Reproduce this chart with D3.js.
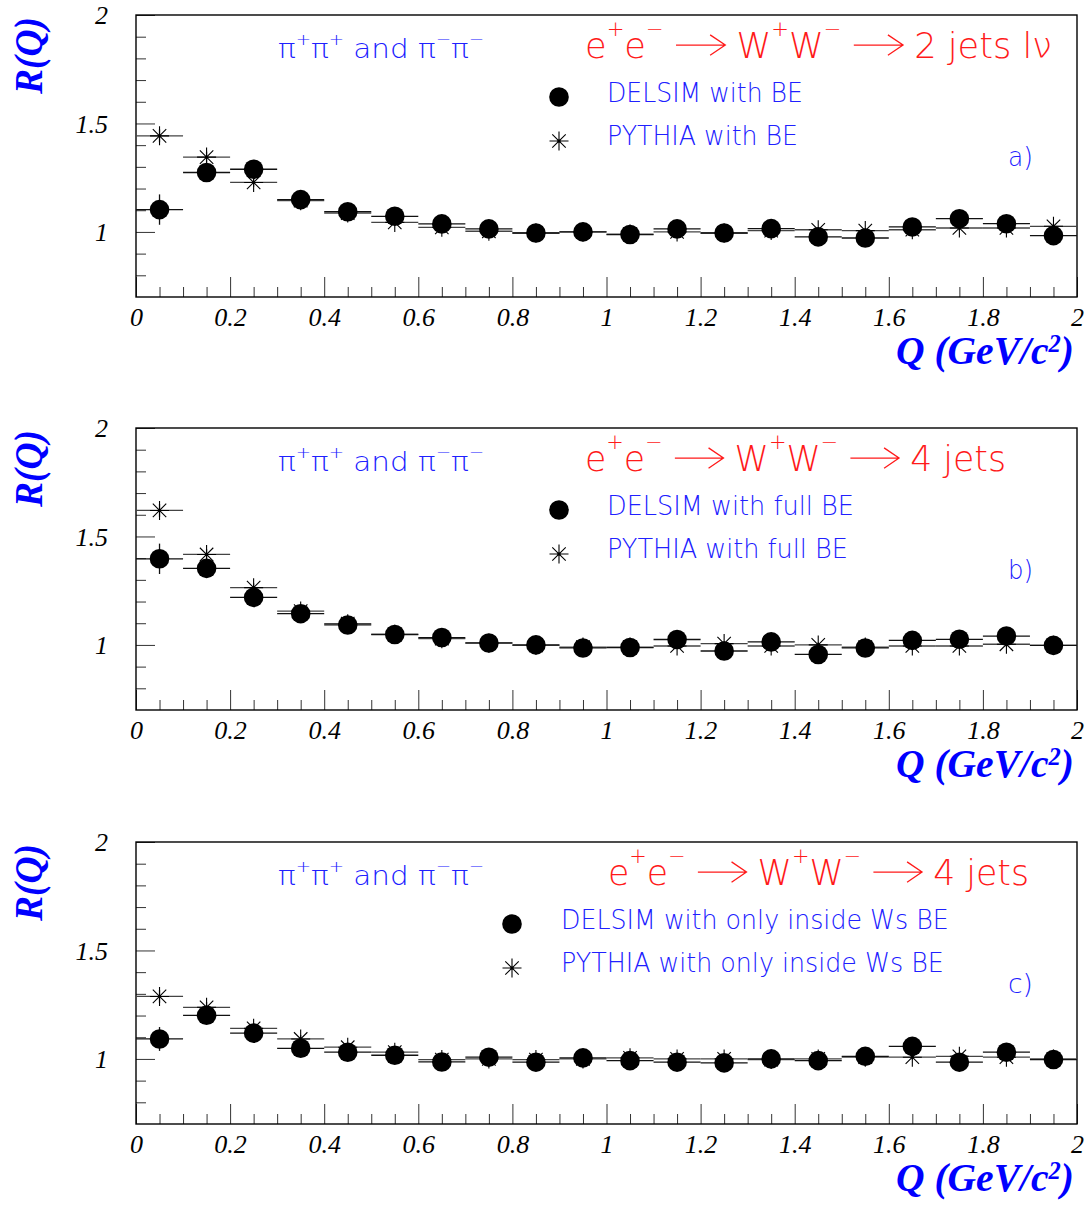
<!DOCTYPE html>
<html><head><meta charset="utf-8">
<script src="https://cdn.jsdelivr.net/npm/d3@7"></script>
<style>html,body{margin:0;padding:0;background:#fff;} svg{display:block}</style>
</head><body>
<svg id="chart" width="1088" height="1207"></svg>
<script>
// ---------------- data ----------------
const binCenters = [0.05,0.15,0.25,0.35,0.45,0.55,0.65,0.75,0.85,0.95,1.05,1.15,1.25,1.35,1.45,1.55,1.65,1.75,1.85,1.95];
const binHalfWidth = 0.05;
const xTickValues = [0,0.2,0.4,0.6,0.8,1,1.2,1.4,1.6,1.8,2];
const xTickLabels = ["0","0.2","0.4","0.6","0.8","1","1.2","1.4","1.6","1.8","2"];
const yTickValues = [1,1.5,2];
const yTickLabels = ["1","1.5","2"];

const delsimA = [1.103,1.274,1.289,1.149,1.093,1.072,1.037,1.014,0.995,1.000,0.988,1.014,0.995,1.015,0.977,0.972,1.023,1.061,1.038,0.983];
const pythiaA = [1.443,1.345,1.228,1.144,1.087,1.044,1.021,1.003,0.995,1.000,0.990,1.000,0.995,1.006,1.010,1.006,1.010,1.018,1.018,1.026];
const delsimB = [1.397,1.353,1.219,1.144,1.092,1.048,1.034,1.009,1.000,0.986,0.988,1.025,0.972,1.014,0.956,0.986,1.021,1.026,1.041,0.998];
const pythiaB = [1.620,1.417,1.264,1.156,1.098,1.049,1.029,1.008,0.998,0.990,0.990,0.995,1.006,0.995,1.000,0.990,0.995,0.995,1.003,0.998];
const delsimC = [1.092,1.201,1.119,1.049,1.031,1.017,0.986,1.008,0.985,1.005,0.992,0.985,0.982,1.000,0.992,1.012,1.058,0.985,1.031,0.997];
const pythiaC = [1.288,1.238,1.141,1.092,1.054,1.031,0.997,1.000,0.997,1.000,1.005,1.000,1.000,0.997,1.000,1.008,1.008,1.012,1.008,1.000];

const delsimErrA = [0.070,0.040,0.035,0.030,0.025,0.022,0.020,0.020,0.020,0.020,0.020,0.020,0.020,0.020,0.020,0.020,0.020,0.020,0.020,0.020];
const delsimErrB = [0.070,0.040,0.035,0.030,0.025,0.022,0.020,0.020,0.020,0.020,0.020,0.020,0.020,0.020,0.020,0.020,0.020,0.020,0.020,0.020];
const delsimErrC = [0.055,0.040,0.035,0.030,0.025,0.022,0.020,0.020,0.020,0.020,0.020,0.020,0.020,0.020,0.020,0.020,0.020,0.020,0.020,0.020];
const pythiaErrA = [0.030,0.025,0.020,0.018,0.015,0.015,0.012,0.012,0.012,0.012,0.012,0.012,0.012,0.012,0.012,0.012,0.012,0.012,0.012,0.012];
const pythiaErrB = [0.030,0.025,0.020,0.018,0.015,0.015,0.012,0.012,0.012,0.012,0.012,0.012,0.012,0.012,0.012,0.012,0.012,0.012,0.012,0.012];
const pythiaErrC = [0.030,0.025,0.020,0.018,0.015,0.015,0.012,0.012,0.012,0.012,0.012,0.012,0.012,0.012,0.012,0.012,0.012,0.012,0.012,0.012];

const panelLetters = ["a)","b)","c)"];
const finalStates = ["2 jets l\u03BD","4 jets","4 jets"];
const delsimLegend = ["DELSIM with BE","DELSIM with full BE","DELSIM with only inside Ws BE"];
const pythiaLegend = ["PYTHIA with BE","PYTHIA with full BE","PYTHIA with only inside Ws BE"];
const xTitle = ["Q (GeV/c","2",")"];
const yTitle = "R(Q)";

// ---------------- layout ----------------
const svg = d3.select("#chart");
const L = 136, R = 1077, H = 282;
const tops = [15, 428, 842];
const x = d3.scaleLinear().domain([0, 2]).range([L, R]);
const lightFont = "'DejaVu Sans', 'Open Sans', sans-serif";
const serif = "'Liberation Serif', 'Times New Roman', serif";

const panels = [
  {d: delsimA, p: pythiaA, de: delsimErrA, pe: pythiaErrA, titleX: 585, titleW: 467, legX: 559, legTextX: 607, legW: [196, 191]},
  {d: delsimB, p: pythiaB, de: delsimErrB, pe: pythiaErrB, titleX: 585, titleW: 421, legX: 559, legTextX: 607, legW: [247, 241]},
  {d: delsimC, p: pythiaC, de: delsimErrC, pe: pythiaErrC, titleX: 608, titleW: 421, legX: 512, legTextX: 561, legW: [388, 383]}
];

function rich(parent, parts, o) {
  const g = parent.append("g");
  const t = g.append("text").attr("font-family", o.family).attr("font-size", o.size)
    .attr("font-weight", o.weight || "normal").attr("font-style", o.style || "normal")
    .attr("fill", o.fill).style("white-space", "pre");
  let cx = 0; const arrows = [];
  parts.forEach(p => {
    if (p.arrow) {
      cx += o.size * 0.35; arrows.push(cx); cx += o.size * 1.4 + o.size * 0.32;
    } else {
      const sup = !!p.sup;
      const ts = t.append("tspan").attr("x", cx).attr("y", sup ? o.size * o.supShift : 0)
        .attr("font-size", sup ? o.size * o.supScale : o.size).text(p.t);
      cx += ts.node().getComputedTextLength();
    }
  });
  arrows.forEach(ax => {
    const len = o.size * 1.4, yy = -o.size * 0.37, hb = o.size * 0.43, hh = o.size * 0.29;
    g.append("path")
      .attr("d", `M${ax},${yy}H${ax + len}M${ax + len - hb},${yy - hh}L${ax + len},${yy}L${ax + len - hb},${yy + hh}`)
      .attr("fill", "none").attr("stroke", o.fill).attr("stroke-width", 1.3)
      .attr("vector-effect", "non-scaling-stroke");
  });
  const s = o.width ? o.width / cx : 1;
  const w = cx * s;
  const x0 = o.anchor === "end" ? o.x - w : o.x;
  g.attr("transform", `translate(${x0},${o.y}) scale(${s},1)`);
  return g;
}

function star(g, cx, cy, r) {
  const d = r * Math.SQRT1_2;
  g.append("path")
    .attr("d", `M${cx - r},${cy}H${cx + r}M${cx},${cy - r}V${cy + r}M${cx - d},${cy - d}L${cx + d},${cy + d}M${cx - d},${cy + d}L${cx + d},${cy - d}`)
    .attr("stroke", "#000").attr("stroke-width", 1.1).attr("fill", "none");
  g.append("circle").attr("cx", cx).attr("cy", cy).attr("r", 1.6).attr("fill", "#000");
}

panels.forEach((P, i) => {
  const top = tops[i], bottom = top + H;
  const y = d3.scaleLinear().domain([0.7, 2]).range([bottom, top]);
  const g = svg.append("g");

  // ticks
  const yMinor = d3.range(8, 20).map(v => v / 10).filter(v => v !== 1 && v !== 1.5);
  g.append("g").attr("transform", `translate(${L},0)`)
    .call(d3.axisLeft(y).tickValues(yMinor).tickSizeInner(-10).tickSizeOuter(0).tickFormat(""))
    .call(a => a.select(".domain").remove()).selectAll("line").attr("stroke", "#333");
  g.append("g").attr("transform", `translate(${L},0)`)
    .call(d3.axisLeft(y).tickValues(yTickValues).tickSizeInner(-19).tickSizeOuter(0).tickPadding(28)
      .tickFormat((d, k) => yTickLabels[k]))
    .call(a => a.select(".domain").remove())
    .call(a => a.selectAll("line").attr("stroke", "#333"))
    .call(a => a.selectAll("text").attr("font-family", serif).attr("font-style", "italic")
      .attr("font-size", 26).attr("fill", "#000").attr("dy", "0.33em"));

  const xMinor = d3.range(1, 40).map(v => v / 20).filter(v => Math.abs(v * 5 - Math.round(v * 5)) > 1e-6);
  g.append("g").attr("transform", `translate(0,${bottom})`)
    .call(d3.axisBottom(x).tickValues(xMinor).tickSizeInner(-10).tickSizeOuter(0).tickFormat(""))
    .call(a => a.select(".domain").remove()).selectAll("line").attr("stroke", "#333");
  g.append("g").attr("transform", `translate(0,${bottom})`)
    .call(d3.axisBottom(x).tickValues(xTickValues).tickSizeInner(-20).tickSizeOuter(0).tickPadding(11)
      .tickFormat((d, k) => xTickLabels[k]))
    .call(a => a.select(".domain").remove())
    .call(a => a.selectAll("line").attr("stroke", "#333"))
    .call(a => a.selectAll("text").attr("font-family", serif).attr("font-style", "italic")
      .attr("font-size", 26).attr("fill", "#000"));

  // frame
  g.append("rect").attr("x", L).attr("y", top).attr("width", R - L).attr("height", H)
    .attr("fill", "none").attr("stroke", "#000").attr("stroke-width", 1.4);

  // PYTHIA series (stars)
  const pg = g.append("g");
  binCenters.forEach((q, k) => {
    pg.append("line").attr("x1", x(q - binHalfWidth)).attr("x2", x(q + binHalfWidth))
      .attr("y1", y(P.p[k])).attr("y2", y(P.p[k])).attr("stroke", "#444").attr("stroke-width", 1.3);
    pg.append("line").attr("x1", x(q)).attr("x2", x(q))
      .attr("y1", y(P.p[k] - P.pe[k])).attr("y2", y(P.p[k] + P.pe[k])).attr("stroke", "#444").attr("stroke-width", 1.3);
    star(pg, x(q), y(P.p[k]), 9.5);
  });
  // DELSIM series (dots)
  const dg = g.append("g");
  binCenters.forEach((q, k) => {
    dg.append("line").attr("x1", x(q - binHalfWidth)).attr("x2", x(q + binHalfWidth))
      .attr("y1", y(P.d[k])).attr("y2", y(P.d[k])).attr("stroke", "#111").attr("stroke-width", 1.3);
    dg.append("line").attr("x1", x(q)).attr("x2", x(q))
      .attr("y1", y(P.d[k] - P.de[k])).attr("y2", y(P.d[k] + P.de[k])).attr("stroke", "#111").attr("stroke-width", 1.3);
    dg.append("circle").attr("cx", x(q)).attr("cy", y(P.d[k])).attr("r", 9.8).attr("fill", "#000");
  });

  // texts
  rich(g, [{t: "\u03C0"}, {t: "+", sup: 1}, {t: "\u03C0"}, {t: "+", sup: 1}, {t: " and \u03C0"}, {t: "\u2212", sup: 1}, {t: "\u03C0"}, {t: "\u2212", sup: 1}],
    {family: lightFont, weight: 200, size: 26, supScale: 0.62, supShift: -0.5, fill: "#2020ff", x: 278, y: top + 43, width: 206});
  rich(g, [{t: "e"}, {t: "+", sup: 1}, {t: "e"}, {t: "\u2212", sup: 1}, {arrow: 1}, {t: "W"}, {t: "+", sup: 1}, {t: "W"}, {t: "\u2212", sup: 1}, {arrow: 1}, {t: finalStates[i]}],
    {family: lightFont, weight: 200, size: 35, supScale: 0.6, supShift: -0.62, fill: "#ff1a1a", x: P.titleX, y: top + 43, width: P.titleW});

  // legend
  g.append("circle").attr("cx", P.legX).attr("cy", top + 82).attr("r", 9.8).attr("fill", "#000");
  star(g, P.legX, top + 126, 9.5);
  rich(g, [{t: delsimLegend[i]}], {family: lightFont, weight: 200, size: 26, fill: "#2020ff", x: P.legTextX, y: top + 87, width: P.legW[0]});
  rich(g, [{t: pythiaLegend[i]}], {family: lightFont, weight: 200, size: 26, fill: "#2020ff", x: P.legTextX, y: top + 130, width: P.legW[1]});
  rich(g, [{t: panelLetters[i]}], {family: lightFont, weight: 200, size: 26, fill: "#2020ff", x: 1008, y: top + 151, width: 25});

  // axis titles
  g.append("text").attr("transform", `translate(42,${top + 2}) rotate(-90)`)
    .attr("text-anchor", "end").attr("font-family", serif).attr("font-style", "italic").attr("font-weight", "bold")
    .attr("font-size", 40).attr("fill", "#0000ff").attr("textLength", 77).attr("lengthAdjust", "spacingAndGlyphs").text(yTitle);
  rich(g, [{t: xTitle[0]}, {t: xTitle[1], sup: 1}, {t: xTitle[2]}],
    {family: serif, style: "italic", weight: "bold", size: 40, supScale: 0.62, supShift: -0.3, fill: "#0000ff", x: 1074, y: bottom + 67, width: 178, anchor: "end"});
});
</script>
</body></html>
